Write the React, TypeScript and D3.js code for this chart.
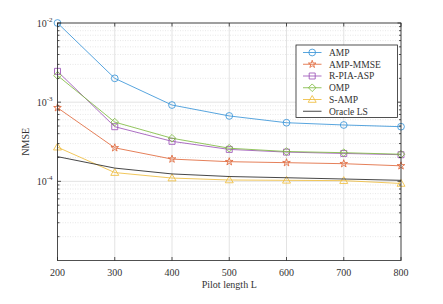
import * as d3 from 'd3';

// pilot lengths on the x axis
const pilotLengths = [200, 300, 400, 500, 600, 700, 800];

// NMSE per method
const ampValues = [1.0e-2, 2.0e-3, 9.2e-4, 6.7e-4, 5.5e-4, 5.15e-4, 4.9e-4];
const ampMmseValues = [8.5e-4, 2.65e-4, 1.91e-4, 1.77e-4, 1.72e-4, 1.67e-4, 1.57e-4];
const rpiaAspValues = [2.45e-3, 4.9e-4, 3.2e-4, 2.53e-4, 2.34e-4, 2.25e-4, 2.17e-4];
const ompValues = [2.17e-3, 5.6e-4, 3.5e-4, 2.62e-4, 2.38e-4, 2.3e-4, 2.2e-4];
const sAmpValues = [2.7e-4, 1.29e-4, 1.1e-4, 1.04e-4, 1.03e-4, 1.02e-4, 9.4e-5];
const oracleLsValues = [2.05e-4, 1.47e-4, 1.24e-4, 1.15e-4, 1.11e-4, 1.07e-4, 1.03e-4];

const seriesNames = ['AMP', 'AMP-MMSE', 'R-PIA-ASP', 'OMP', 'S-AMP', 'Oracle LS'];
const seriesColors = ['#3a95d8', '#e0693c', '#9d55b8', '#7fba42', '#efbd3e', '#262626'];
const seriesMarkers = ['circle', 'star', 'square', 'diamond', 'triangle', 'none'];
const seriesValues = [ampValues, ampMmseValues, rpiaAspValues, ompValues, sAmpValues, oracleLsValues];

const yMajorTicks = [1e-2, 1e-3, 1e-4];
const yExponents = ['-2', '-3', '-4'];

const W = 443;
const H = 304;
const margin = { top: 23, right: 42, bottom: 43.5, left: 57.5 };
const font = '"Liberation Serif", "DejaVu Serif", serif';
const axisColor = '#262626';
const textColor = '#333';

function markerPath(kind: string): string {
  switch (kind) {
    case 'circle':
      return d3.symbol(d3.symbolCircle, 36)()!;
    case 'star':
      return d3.symbol(d3.symbolStar, 18)()!;
    case 'square':
      return 'M-3,-3L3,-3L3,3L-3,3Z';
    case 'diamond':
      return 'M0,-3.8L3.8,0L0,3.8L-3.8,0Z';
    case 'triangle':
      return 'M0,-4L4,2.8L-4,2.8Z';
    default:
      return '';
  }
}

export default function App() {
  const innerW = W - margin.left - margin.right;
  const innerH = H - margin.top - margin.bottom;

  const x = d3.scaleLinear().domain([200, 800]).range([0, innerW]);
  const y = d3.scaleLog().domain([1e-5, 1e-2]).range([innerH, 0]);

  // minor ticks for each decade
  const minorTicks: number[] = [];
  [1e-5, 1e-4, 1e-3].forEach(base => {
    for (let k = 2; k <= 9; k++) minorTicks.push(base * k);
  });

  const line = d3.line<number>()
    .x((_, i) => x(pilotLengths[i]))
    .y(d => y(d));

  const legendX = 296;
  const legendY = 45;
  const legendW = 101.5;
  const legendH = 72.5;
  const rowH = 11.75;

  return (
    <svg width={W} height={H} style={{ position: 'absolute', left: 0, top: 0, background: '#fff' }}>
      <g transform={`translate(${margin.left},${margin.top})`}>
        {/* minor grid */}
        {minorTicks.map(t => (
          <line key={`mg${t}`} x1={0} x2={innerW} y1={y(t)} y2={y(t)}
            stroke="#d9d9d9" strokeWidth={0.6} strokeDasharray="1,1.5" />
        ))}
        {/* major grid */}
        {yMajorTicks.map(t => (
          <line key={`g${t}`} x1={0} x2={innerW} y1={y(t)} y2={y(t)} stroke="#e3e3e3" strokeWidth={1} />
        ))}
        {pilotLengths.map(t => (
          <line key={`gx${t}`} x1={x(t)} x2={x(t)} y1={0} y2={innerH} stroke="#e3e3e3" strokeWidth={1} />
        ))}

        {/* series */}
        {seriesValues.map((vals, si) => (
          <g key={seriesNames[si]}>
            <path d={line(vals)!} fill="none" stroke={seriesColors[si]} strokeWidth={0.85} />
            {seriesMarkers[si] !== 'none' && vals.map((v, i) => (
              <path key={i} d={markerPath(seriesMarkers[si])}
                transform={`translate(${x(pilotLengths[i])},${y(v)})`}
                fill="none" stroke={seriesColors[si]} strokeWidth={0.85} />
            ))}
          </g>
        ))}

        {/* axes box */}
        <rect x={0} y={0} width={innerW} height={innerH} fill="none" stroke={axisColor} strokeWidth={0.8} />
        {pilotLengths.map(t => (
          <g key={`xt${t}`}>
            <line x1={x(t)} x2={x(t)} y1={innerH} y2={innerH - 3.5} stroke={axisColor} strokeWidth={0.8} />
            <line x1={x(t)} x2={x(t)} y1={0} y2={3.5} stroke={axisColor} strokeWidth={0.8} />
            <text x={x(t)} y={innerH + 15} textAnchor="middle" fontFamily={font} fontSize={10} fill={textColor}>{t}</text>
          </g>
        ))}
        {yMajorTicks.map(t => (
          <g key={`yt${t}`}>
            <line x1={0} x2={3.5} y1={y(t)} y2={y(t)} stroke={axisColor} strokeWidth={0.8} />
            <line x1={innerW} x2={innerW - 3.5} y1={y(t)} y2={y(t)} stroke={axisColor} strokeWidth={0.8} />
          </g>
        ))}
        {minorTicks.map(t => (
          <g key={`ym${t}`}>
            <line x1={0} x2={2} y1={y(t)} y2={y(t)} stroke={axisColor} strokeWidth={0.8} />
            <line x1={innerW} x2={innerW - 2} y1={y(t)} y2={y(t)} stroke={axisColor} strokeWidth={0.8} />
          </g>
        ))}
        {yMajorTicks.map((t, i) => (
          <text key={`yl${t}`} x={-5} y={y(t) + 3.5} textAnchor="end" fontFamily={font} fontSize={10} fill={textColor}>
            10<tspan dy={-4.5} fontSize={7}>{yExponents[i]}</tspan>
          </text>
        ))}

        {/* axis titles */}
        <text x={innerW / 2} y={innerH + 27.5} textAnchor="middle" fontFamily={font} fontSize={10} fill={textColor}>Pilot length L</text>
        <text transform={`translate(${-29},${innerH / 2}) rotate(-90)`} textAnchor="middle" fontFamily={font} fontSize={10} fill={textColor}>NMSE</text>
      </g>

      {/* legend */}
      <g>
        <rect x={legendX} y={legendY} width={legendW} height={legendH} fill="#fff" stroke={axisColor} strokeWidth={0.8} />
        {seriesNames.map((name, i) => {
          const cy = legendY + 7.5 + i * rowH;
          return (
            <g key={`lg${name}`}>
              <line x1={303} x2={321.5} y1={cy} y2={cy} stroke={seriesColors[i]} strokeWidth={0.85} />
              {seriesMarkers[i] !== 'none' && (
                <path d={markerPath(seriesMarkers[i])} transform={`translate(312.2,${cy})`}
                  fill="none" stroke={seriesColors[i]} strokeWidth={0.85} />
              )}
              <text x={329} y={cy + 3.3} fontFamily={font} fontSize={9.5} fill={textColor}>{name}</text>
            </g>
          );
        })}
      </g>
    </svg>
  );
}
